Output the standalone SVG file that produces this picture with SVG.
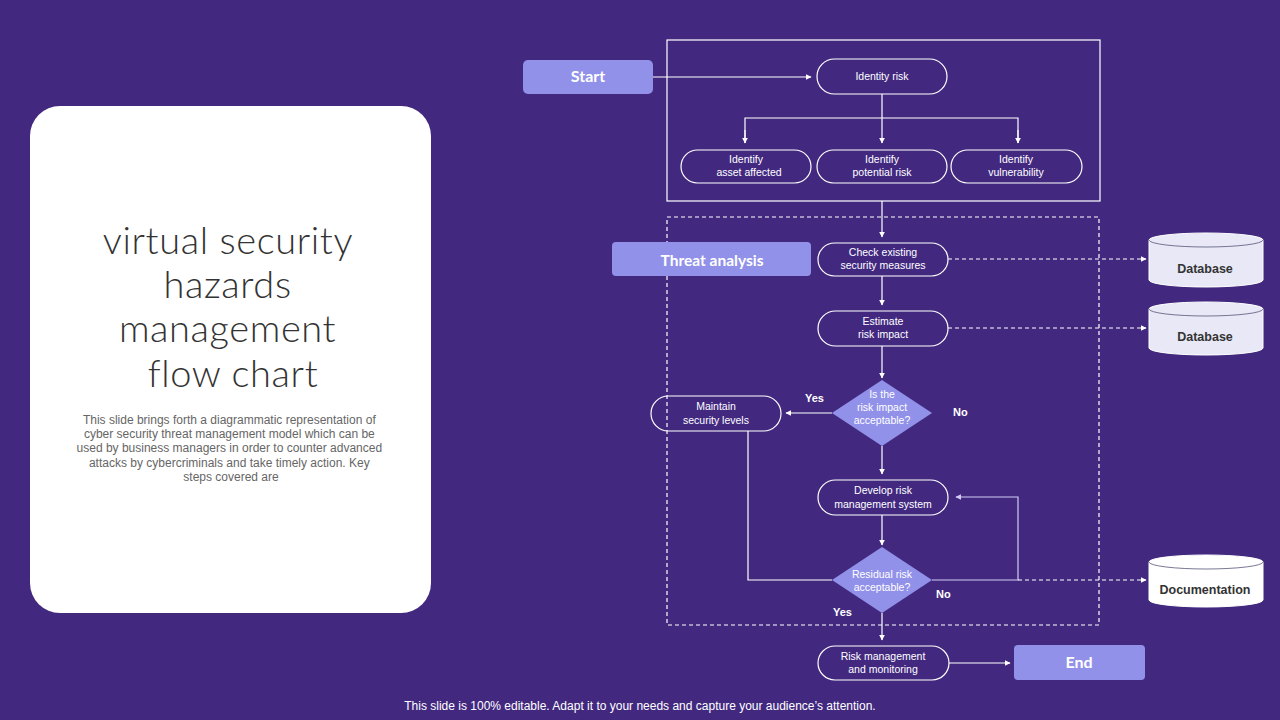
<svg xmlns="http://www.w3.org/2000/svg" width="1280" height="720" viewBox="0 0 1280 720">
<defs>
<marker id="ah" viewBox="0 0 10 10" refX="9" refY="5" markerWidth="6" markerHeight="6" orient="auto" markerUnits="userSpaceOnUse"><path d="M0,0 L10,5 L0,10 z" fill="#ffffff"/></marker>
<marker id="ahl" viewBox="0 0 10 10" refX="9" refY="5" markerWidth="6" markerHeight="6" orient="auto" markerUnits="userSpaceOnUse"><path d="M0,0 L10,5 L0,10 z" fill="#d0ccf4"/></marker>
<style>
.pill{fill:none;stroke:#ffffff;stroke-width:1.2}
.pt{font-family:"Liberation Sans",Arial,sans-serif;font-size:10.5px;fill:#ffffff;text-anchor:middle}
.box{fill:#9191e9}
.bt{font-family:Lato,"Liberation Sans",sans-serif;font-weight:bold;fill:#ffffff;text-anchor:middle}
.ln{fill:none;stroke:#ffffff;stroke-width:1.2}
.dl{fill:none;stroke:#ffffff;stroke-width:1.2;stroke-dasharray:4 3}
.yn{font-family:"Liberation Sans",Arial,sans-serif;font-size:11px;font-weight:bold;fill:#ffffff}
.cyl{fill:#e8e8f6;stroke:#ffffff;stroke-width:1}
.ct{font-family:"Liberation Sans",Arial,sans-serif;font-size:12.5px;font-weight:bold;fill:#333333;text-anchor:middle}
.dia{fill:#9191e9}
</style>
</defs>
<rect x="0" y="0" width="1280" height="720" fill="#42297f"/>

<g id="card">
<rect x="30" y="106" width="401" height="507" rx="30" fill="#ffffff"/>
<text font-family="Lato,'Noto Sans',sans-serif" font-weight="300" font-size="38" letter-spacing="0.6" fill="#333333" text-anchor="middle">
<tspan x="233" y="254">virtual security</tspan>
<tspan x="233" y="298">hazards</tspan>
<tspan x="233" y="342">management</tspan>
<tspan x="233" y="387">flow chart</tspan>
</text>
<text font-family="'Liberation Sans',Arial,sans-serif" font-size="12" fill="#666666" text-anchor="middle">
<tspan x="231" y="424">This slide brings forth a diagrammatic representation of</tspan>
<tspan x="231" y="438">cyber  security threat management model which can be</tspan>
<tspan x="231" y="452">used by business managers in order to counter advanced</tspan>
<tspan x="231" y="467">attacks by  cybercriminals and take timely action. Key</tspan>
<tspan x="231" y="481">steps covered are</tspan>
</text>
</g>

<g id="frames">
<rect x="667" y="40" width="433" height="161" class="ln"/>
<rect x="667" y="217" width="432" height="408" class="dl"/>
</g>

<g id="connectors">
<line x1="653" y1="77" x2="811" y2="77" class="ln" marker-end="url(#ah)"/>
<line x1="882" y1="94" x2="882" y2="143" class="ln" marker-end="url(#ah)"/>
<polyline points="745,143 745,118 1018,118 1018,143" class="ln"/>
<line x1="745" y1="130" x2="745" y2="143" class="ln" marker-end="url(#ah)"/>
<line x1="1018" y1="130" x2="1018" y2="143" class="ln" marker-end="url(#ah)"/>
<line x1="882" y1="201" x2="882" y2="237" class="ln" marker-end="url(#ah)"/>
<line x1="948" y1="259" x2="1146" y2="259" class="dl" marker-end="url(#ah)"/>
<line x1="882" y1="276" x2="882" y2="305" class="ln" marker-end="url(#ah)"/>
<line x1="948" y1="328" x2="1146" y2="328" class="dl" marker-end="url(#ah)"/>
<line x1="882" y1="346" x2="882" y2="378" class="ln" marker-end="url(#ah)"/>
<line x1="832" y1="413" x2="786" y2="413" class="ln" marker-end="url(#ah)"/>
<line x1="882" y1="446" x2="882" y2="474" class="ln" marker-end="url(#ah)"/>
<line x1="882" y1="515" x2="882" y2="545" class="ln" marker-end="url(#ah)"/>
<polyline points="748,431 748,580 832,580" class="ln"/>
<polyline points="932,580 1018,580 1018,497 956,497" fill="none" stroke="#d0ccf4" stroke-width="1.2" marker-end="url(#ahl)"/>
<line x1="1018" y1="580" x2="1146" y2="580" class="dl" marker-end="url(#ah)"/>
<line x1="882" y1="613" x2="882" y2="640" class="ln" marker-end="url(#ah)"/>
<line x1="949" y1="663" x2="1010" y2="663" class="ln" marker-end="url(#ah)"/>
</g>

<g id="start"><rect x="523" y="60" width="130" height="34" rx="5" class="box"/><text x="588" y="82" class="bt" font-size="16">Start</text></g>
<g id="identity-risk"><rect x="817" y="59" width="130" height="35" rx="17.5" class="pill"/><text x="882" y="80" class="pt">Identity risk</text></g>
<g id="asset"><rect x="681" y="150" width="130" height="33" rx="16.5" class="pill"/><text class="pt"><tspan x="746" y="163">Identify</tspan><tspan x="749" y="176">asset affected</tspan></text></g>
<g id="potential"><rect x="817" y="150" width="130" height="33" rx="16.5" class="pill"/><text class="pt"><tspan x="882" y="163">Identify</tspan><tspan x="882" y="176">potential risk</tspan></text></g>
<g id="vulnerability"><rect x="951" y="150" width="131" height="33" rx="16.5" class="pill"/><text class="pt"><tspan x="1016" y="163">Identify</tspan><tspan x="1016" y="176">vulnerability</tspan></text></g>

<g id="threat"><rect x="612" y="242" width="199" height="34" rx="4" class="box"/><text x="712" y="266" class="bt" font-size="15.5">Threat analysis</text></g>
<g id="check"><rect x="818" y="243" width="130" height="33" rx="16.5" class="pill"/><text class="pt"><tspan x="883" y="256">Check existing</tspan><tspan x="883" y="269">security measures</tspan></text></g>
<g id="db1"><path d="M1149,240 L1149,280 A57,7 0 0 0 1263,280 L1263,240 A57,7 0 0 0 1149,240 z" class="cyl"/><path d="M1149,240 A57,7 0 0 0 1263,240" fill="none" stroke="#555577" stroke-width="0.8"/><text x="1205" y="273" class="ct">Database</text></g>
<g id="estimate"><rect x="818" y="311" width="130" height="35" rx="17.5" class="pill"/><text class="pt"><tspan x="883" y="325">Estimate</tspan><tspan x="883" y="338">risk impact</tspan></text></g>
<g id="db2"><path d="M1149,309 L1149,348 A57,7 0 0 0 1263,348 L1263,309 A57,7 0 0 0 1149,309 z" class="cyl"/><path d="M1149,309 A57,7 0 0 0 1263,309" fill="none" stroke="#555577" stroke-width="0.8"/><text x="1205" y="341" class="ct">Database</text></g>

<g id="decision1"><polygon points="882,380 932,413 882,446 832,413" class="dia"/><text class="pt" font-size="10"><tspan x="882" y="398">Is the</tspan><tspan x="882" y="411">risk impact</tspan><tspan x="882" y="424">acceptable?</tspan></text></g>
<text x="805" y="402" class="yn">Yes</text>
<text x="953" y="416" class="yn">No</text>
<g id="maintain"><rect x="651" y="396" width="130" height="35" rx="17.5" class="pill"/><text class="pt"><tspan x="716" y="410">Maintain</tspan><tspan x="716" y="424">security levels</tspan></text></g>
<g id="develop"><rect x="818" y="480" width="130" height="35" rx="17.5" class="pill"/><text class="pt"><tspan x="883" y="494">Develop risk</tspan><tspan x="883" y="508">management  system</tspan></text></g>
<g id="decision2"><polygon points="882,547 932,580 882,613 832,580" class="dia"/><text class="pt" font-size="10"><tspan x="882" y="578">Residual risk</tspan><tspan x="882" y="591">acceptable?</tspan></text></g>
<text x="936" y="598" class="yn">No</text>
<text x="833" y="616" class="yn">Yes</text>
<g id="documentation"><path d="M1149,562 L1149,600 A57,7 0 0 0 1263,600 L1263,562 A57,7 0 0 0 1149,562 z" fill="#ffffff" stroke="#ffffff"/><path d="M1149,562 A57,7 0 0 0 1263,562" fill="none" stroke="#555577" stroke-width="0.8"/><text x="1205" y="594" class="ct">Documentation</text></g>
<g id="monitoring"><rect x="818" y="646" width="131" height="34" rx="17" class="pill"/><text class="pt"><tspan x="883" y="660">Risk management</tspan><tspan x="883" y="673">and monitoring</tspan></text></g>
<g id="end"><rect x="1014" y="645" width="131" height="35" rx="4" class="box"/><text x="1079" y="668" class="bt" font-size="16">End</text></g>

<text x="640" y="710" font-family="'Liberation Sans',Arial,sans-serif" font-size="12" fill="#ffffff" text-anchor="middle">This slide is 100% editable. Adapt it to your needs and capture your audience’s attention.</text>
</svg>
